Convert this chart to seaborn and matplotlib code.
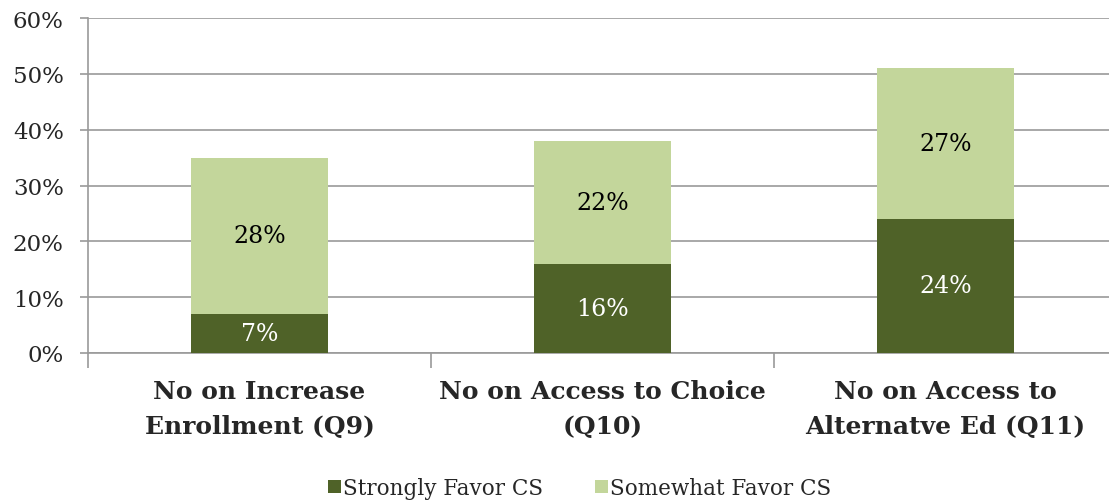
import matplotlib
matplotlib.use("Agg")
import matplotlib.pyplot as plt
import seaborn as sns
import pandas as pd
from matplotlib.patches import Patch

categories = ["No on Increase\nEnrollment (Q9)",
              "No on Access to Choice\n(Q10)",
              "No on Access to\nAlternatve Ed (Q11)"]
strongly = [7, 16, 24]
somewhat = [28, 22, 27]
series_names = ["Strongly Favor CS", "Somewhat Favor CS"]
y_ticks = [0, 10, 20, 30, 40, 50, 60]

dark_green = "#4F6228"
light_green = "#C3D69B"
grid_gray = "#9A9A9A"

sns.set_theme(style="white")
plt.rcParams["font.family"] = ["DejaVu Serif"]

fig = plt.figure(figsize=(11.09, 5.02), dpi=100)
ax = fig.add_axes([88 / 1109, 148 / 502, 1029 / 1109, 335 / 502])

df = pd.DataFrame({"category": categories, "strong": strongly, "somewhat": somewhat})

sns.barplot(data=df, x="category", y="strong", color=dark_green,
            width=0.4, saturation=1, linewidth=0, ax=ax, zorder=3)
sns.barplot(data=df, x="category", y="somewhat", bottom=df["strong"],
            color=light_green, width=0.4, saturation=1, linewidth=0, ax=ax, zorder=3)

bars_strong = ax.containers[0]
bars_some = ax.containers[1]
ax.bar_label(bars_strong, labels=[f"{v}%" for v in strongly], label_type="center",
             color="white", fontsize=17)
ax.bar_label(bars_some, labels=[f"{v}%" for v in somewhat], label_type="center",
             color="black", fontsize=17)

ax.set_ylim(0, 60)
ax.set_xlim(-0.5, 2.5)
ax.set_yticks(y_ticks)
ax.set_yticklabels([f"{t}%" for t in y_ticks], fontsize=16.5)
ax.yaxis.grid(True, color=grid_gray, linewidth=1.2, zorder=0)
ax.set_axisbelow(True)
ax.tick_params(axis="y", left=True, length=6, color=grid_gray, width=1.2,
               direction="out", pad=11.5)

ax.set_xticks(range(len(categories)))
ax.set_xticklabels(categories, fontsize=18, fontweight="bold", linespacing=1.55)
ax.tick_params(axis="x", which="major", bottom=False, length=0, pad=19)
ax.set_xticks([-0.5, 0.5, 1.5], minor=True)
ax.tick_params(axis="x", which="minor", bottom=True, length=11, color=grid_gray,
               width=1.2, direction="out")
ax.set_xlabel("")
ax.set_ylabel("")

for side in ["top", "right"]:
    ax.spines[side].set_visible(False)
for side in ["left", "bottom"]:
    ax.spines[side].set_color(grid_gray)
    ax.spines[side].set_linewidth(1.2)

handles = [Patch(facecolor=dark_green, edgecolor="none"),
           Patch(facecolor=light_green, edgecolor="none")]
fig.legend(handles, series_names, loc="center", bbox_to_anchor=(580 / 1109, 1 - 489 / 502),
           ncol=2, frameon=False, fontsize=15.5, handlelength=0.6, handleheight=0.6,
           handletextpad=0.1, columnspacing=2.4, borderaxespad=0, borderpad=0)

fig.savefig("out.png", dpi=100)
